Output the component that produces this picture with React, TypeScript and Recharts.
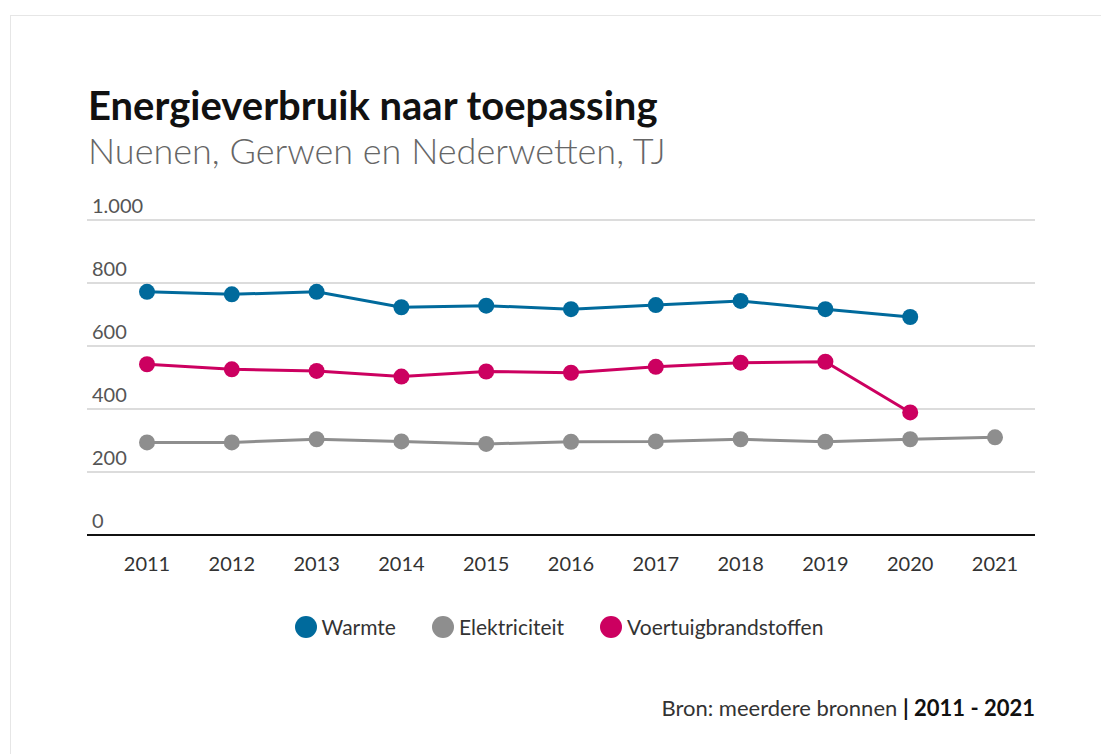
import { LineChart, Line, XAxis, YAxis, CartesianGrid } from "recharts";

const years = ["2011", "2012", "2013", "2014", "2015", "2016", "2017", "2018", "2019", "2020", "2021"];
const warmte = [772, 764, 772, 723, 728, 717, 730, 743, 717, 692, null];
const elektriciteit = [294, 294, 304, 297, 289, 296, 297, 304, 296, 304, 310];
const voertuig = [542, 526, 521, 503, 519, 515, 534, 547, 550, 389, null];
const yTicks = [0, 200, 400, 600, 800, 1000];

const series = [
  { key: "warmte", name: "Warmte", color: "#006a9c" },
  { key: "elektriciteit", name: "Elektriciteit", color: "#8e8e8e" },
  { key: "voertuig", name: "Voertuigbrandstoffen", color: "#cc0060" },
];

const data = years.map((y, i) => ({
  year: y,
  warmte: warmte[i],
  elektriciteit: elektriciteit[i],
  voertuig: voertuig[i],
}));

const FONT = "Lato, 'Noto Sans', sans-serif";

const fmt = (v: number) => v.toLocaleString("nl-NL");

const renderYTick = (props: any) => {
  const { y, payload } = props;
  return (
    <text x={92} y={y - 7} fill="#555" fontSize={20} fontFamily={FONT}>
      {fmt(payload.value)}
    </text>
  );
};

export default function App() {
  return (
    <div
      style={{
        position: "absolute",
        left: 0,
        top: 0,
        width: 1101,
        height: 754,
        background: "#fff",
        fontFamily: FONT,
      }}
    >
      <div
        style={{
          position: "absolute",
          left: 10,
          top: 15,
          width: 1100,
          height: 740,
          border: "1px solid #e6e6e6",
          boxSizing: "border-box",
        }}
      />
      <div style={{ position: "absolute", left: 88, top: 85, fontSize: 40, fontWeight: 700, color: "#111", lineHeight: "40px" }}>
        Energieverbruik naar toepassing
      </div>
      <div style={{ position: "absolute", left: 88, top: 130, fontSize: 36, fontWeight: 300, color: "#666", lineHeight: "40px" }}>
        Nuenen, Gerwen en Nederwetten, TJ
      </div>
      <div style={{ position: "absolute", left: 0, top: 0 }}>
        <LineChart
          width={1101}
          height={600}
          data={data}
          margin={{ top: 220, left: 27, right: 66, bottom: 21 }}
        >
          <CartesianGrid vertical={false} stroke="#dcdcdc" strokeWidth={2} />
          <XAxis
            dataKey="year"
            padding={{ left: 60, right: 40 }}
            axisLine={{ stroke: "#111", strokeWidth: 2 }}
            tickLine={false}
            tickMargin={16}
            height={44}
            tick={{ fill: "#333", fontSize: 20, fontFamily: FONT }}
            interval={0}
          />
          <YAxis
            width={60}
            domain={[0, 1000]}
            ticks={yTicks}
            axisLine={false}
            tickLine={false}
            tick={renderYTick}
          />
          {series.map((s) => (
            <Line
              key={s.key}
              dataKey={s.key}
              name={s.name}
              stroke={s.color}
              strokeWidth={3}
              dot={{ r: 8, fill: s.color, stroke: s.color, strokeWidth: 0 }}
              activeDot={false}
              isAnimationActive={false}
            />
          ))}
        </LineChart>
      </div>
      <div
        style={{
          position: "absolute",
          left: 0,
          width: 1101,
          top: 614,
          display: "flex",
          justifyContent: "center",
          gap: 36,
          fontSize: 21,
          lineHeight: "26px",
          color: "#333",
          paddingLeft: 17,
          boxSizing: "border-box",
        }}
      >
        {series.map((s) => (
          <div key={s.key} style={{ display: "flex", alignItems: "center", gap: 5 }}>
            <span style={{ width: 22, height: 22, borderRadius: 11, background: s.color, display: "inline-block" }} />
            <span>{s.name}</span>
          </div>
        ))}
      </div>
      <div style={{ position: "absolute", right: 66, top: 695, fontSize: 22, lineHeight: "26px", color: "#333" }}>
        Bron: meerdere bronnen <span style={{ fontWeight: 700, color: "#111" }}>| 2011 - 2021</span>
      </div>
    </div>
  );
}
